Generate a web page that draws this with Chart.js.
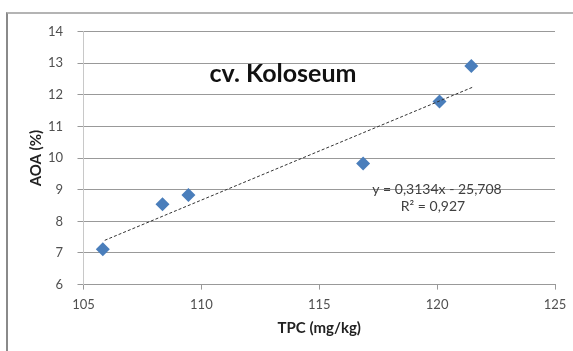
<!DOCTYPE html>
<html><head><meta charset="utf-8">
<script src="https://cdn.jsdelivr.net/npm/chart.js@4"></script>
<style>
html,body{margin:0;padding:0;background:#fff;width:573px;height:351px;overflow:hidden;}
#frame{position:absolute;left:6px;top:12px;width:600px;height:400px;border-left:2px solid #8a8a8a;border-top:2px solid #b4b4b4;}
#wrap{position:absolute;left:0;top:0;width:573px;height:351px;}
</style></head>
<body>
<div id="frame"></div>
<div id="wrap"><canvas id="c" width="573" height="351"></canvas></div>
<script>
const chartTitle = "cv. Koloseum";
const xTitle = "TPC (mg/kg)";
const yTitle = "AOA (%)";
const tpc = [105.82, 108.35, 109.45, 116.86, 120.10, 121.45];
const aoa = [7.12, 8.54, 8.83, 9.83, 11.79, 12.91];
const trendX = [105.9, 121.5];
const trendY = [7.40, 12.24];
const equationLines = ["y = 0,3134x - 25,708", "R\u00b2 = 0,927"];
const xTicks = [105, 110, 115, 120, 125];
const yTicks = [6, 7, 8, 9, 10, 11, 12, 13, 14];

const FONT = "Lato, 'Open Sans', sans-serif";

const textPlugin = {
  id: 'texts',
  afterDraw(chart) {
    const ctx = chart.ctx;
    ctx.save();
    ctx.fillStyle = '#111';
    ctx.font = "bold 25px " + FONT;
    ctx.textAlign = 'center';
    ctx.textBaseline = 'middle';
    ctx.fillText(chartTitle, 283, 74);
    ctx.fillStyle = '#404040';
    ctx.font = "14px " + FONT;
    ctx.fillText(equationLines[0], 437, 189);
    ctx.fillText(equationLines[1], 433, 206);
    ctx.restore();
  }
};

new Chart(document.getElementById('c'), {
  type: 'scatter',
  data: {
    datasets: [
      {
        data: tpc.map((x, i) => ({x, y: aoa[i]})),
        pointStyle: 'rectRot',
        pointRadius: 7,
        pointHoverRadius: 7,
        backgroundColor: '#4a7ebb',
        borderColor: '#4a7ebb',
        borderWidth: 0,
        order: 2
      },
      {
        type: 'line',
        data: trendX.map((x, i) => ({x, y: trendY[i]})),
        showLine: true,
        pointRadius: 0,
        borderColor: '#333',
        borderWidth: 1,
        borderDash: [3, 2],
        fill: false,
        order: 1
      }
    ]
  },
  options: {
    responsive: false,
    animation: false,
    events: [],
    layout: {padding: {top: 31.6, right: 18, left: 0, bottom: 0}},
    plugins: {legend: {display: false}, tooltip: {enabled: false}, title: {display: false}},
    scales: {
      x: {
        type: 'linear', min: 105, max: 125,
        afterBuildTicks(s) { s.ticks = xTicks.map(v => ({value: v})); },
        afterFit(s) { s.height = 66.4; s.paddingLeft = 0; s.paddingRight = 0; },
        grid: {drawOnChartArea: false, drawTicks: true, tickLength: 5, color: '#999'},
        border: {display: true, color: '#999'},
        ticks: {color: '#505050', font: {family: FONT, size: 13}, padding: 7, maxRotation: 0},
        title: {display: true, text: xTitle, color: '#222', font: {family: FONT, size: 15, weight: 'bold'}, padding: {top: 0, bottom: 14}}
      },
      y: {
        type: 'linear', min: 6, max: 14,
        afterBuildTicks(s) { s.ticks = yTicks.map(v => ({value: v})); },
        afterFit(s) { s.width = 83.5; s.paddingTop = 0; s.paddingBottom = 0; },
        grid: {color: '#999', tickLength: 6, drawTicks: true},
        border: {display: true, color: '#c8c8c8'},
        ticks: {color: '#505050', font: {family: FONT, size: 13}, padding: 14.5},
        title: {display: true, text: yTitle, color: '#222', font: {family: FONT, size: 15, weight: 'bold'}, padding: {top: 27, bottom: 0}}
      }
    }
  },
  plugins: [textPlugin]
});
</script>
</body></html>
